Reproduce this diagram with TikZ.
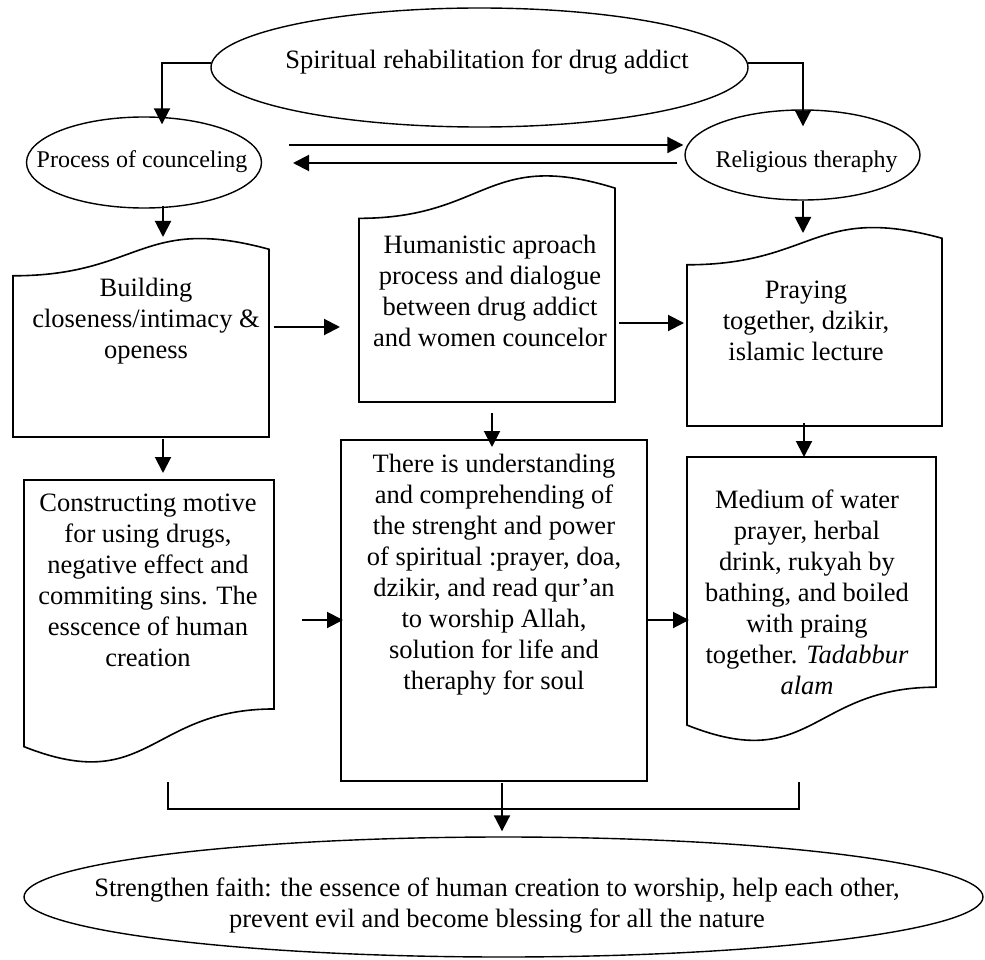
\documentclass[tikz,border=0pt]{standalone}
\usepackage{fontspec}
\setmainfont{Liberation Serif}
\usetikzlibrary{shapes.geometric,arrows.meta,calc}
\newcommand\docdown[2]{%
  \draw[shp] (#1.north west) -- (#1.north east) -- ($(#1.north east)+(0,0.802*#2)$)
    .. controls ($(#1.north)+(0,0.802*#2)$) and ($(#1.north)+(0,1.1075*#2)$) ..
    ($(#1.north west)+(0,0.934*#2)$) -- cycle;}
\newcommand\docup[2]{%
  \draw[shp] (#1.south west) -- (#1.south east) -- ($(#1.south east)+(0,-0.934*#2)$)
    .. controls ($(#1.south)+(0,-1.1075*#2)$) and ($(#1.south)+(0,-0.802*#2)$) ..
    ($(#1.south west)+(0,-0.802*#2)$) -- cycle;}
\begin{document}
\begin{tikzpicture}[x=1pt,y=-1pt,
  shp/.style={draw, line width=1.6pt, line join=miter},
  ln/.style={line width=1.7pt},
  arr/.style={line width=2pt, -{Triangle[length=16pt,width=16pt]}},
  ell/.style={ellipse, draw, line width=1.4pt, inner sep=0pt},
  area/.style={rectangle, draw=none, inner sep=0pt, outer sep=0pt},
  bigtxt/.style={align=center, inner sep=0pt, font=\fontsize{26.5pt}{31pt}\selectfont},
  smtxt/.style={align=center, inner sep=0pt, font=\fontsize{24pt}{28pt}\selectfont}]
\useasboundingbox[fill=white] (0,0) rectangle (985,960);

% ellipses
\node[ell, minimum width=537pt, minimum height=119pt] (topE) at (479.5,67.5) {};
\node[bigtxt] (topT) at (487,62) {Spiritual rehabilitation for drug addict};
\node[ell, minimum width=235pt, minimum height=91pt] (proc) at (144,162.5) {};
\node[smtxt] (procT) at (142,162) {Process of counceling};
\node[ell, minimum width=235pt, minimum height=90pt] (rel) at (802.5,155) {};
\node[smtxt] (relT) at (806.5,162) {Religious theraphy};
\node[ell, minimum width=959pt, minimum height=120pt] (bot) at (503.5,897) {};
\node[bigtxt] (botT) at (497,906) {Strengthen faith: the essence of human creation to worship, help each other,\\prevent evil and become blessing for all the nature};

% box areas
\node[area, minimum width=256pt, minimum height=201pt] (bld) at (141,336.5) {};
\node[area, minimum width=256pt, minimum height=229pt] (hum) at (487,287.5) {};
\node[area, minimum width=255pt, minimum height=201pt] (pray) at (814.5,325.5) {};
\node[area, minimum width=250pt, minimum height=285.5pt] (cons) at (149,622.75) {};
\node[area, draw, line width=1.6pt, minimum width=306pt, minimum height=341pt] (there) at (494,610.5) {};
\node[area, minimum width=249pt, minimum height=287pt] (med) at (811.5,600.5) {};

\docup{bld}{201}
\docup{hum}{229}
\docup{pray}{201}
\docdown{cons}{285.5}
\docdown{med}{287}

% box texts
\node[bigtxt] (bldT) at (146,321) {Building\\closeness/intimacy \&\\openess};
\node[bigtxt] (humT) at (490,291) {Humanistic aproach\\process and dialogue\\between drug addict\\and women councelor};
\node[bigtxt] (prayT) at (806,321) {Praying\\together, dzikir,\\islamic lecture};
\node[bigtxt] (consT) at (148,580.5) {Constructing motive\\for using drugs,\\negative effect and\\commiting sins. The\\esscence of human\\creation};
\node[bigtxt] (thereT) at (494,574.5) {There is understanding\\and comprehending of\\the strenght and power\\of spiritual :prayer, doa,\\dzikir, and read qur’an\\to worship Allah,\\solution for life and\\theraphy for soul};
\node[bigtxt] (medT) at (807,592) {Medium of water\\prayer, herbal\\drink, rukyah by\\bathing, and boiled\\with praing\\together. \textit{Tadabbur}\\\textit{alam}};

% connectors
\draw[arr] (topE.179) -| ($(proc.north)+(18,8)$);
\draw[arr] (topE.1) -| ($(rel.north)+(0.5,17)$);
\coordinate (a3s) at (289,145);
\coordinate (a4e) at (293,163);
\draw[arr] (a3s) -- ($(rel.west)+(-1,-10)$);
\draw[arr] ($(rel.west)+(-7,8)$) -- (a4e);
\draw[arr] ($(proc.south)+(19,-3)$) -- ($(bld.north)+(22,1)$);
\draw[arr] ($(rel.south)+(0.5,0)$) -- ($(pray.north)+(-11.5,8)$);
\draw[arr] ($(bld.east)+(5,-9.5)$) -- ($(hum.west)+(-19,39.5)$);
\draw[arr] ($(hum.east)+(4,35.5)$) -- ($(pray.west)+(-3,-2.5)$);
\draw[arr] ($(bld.south)+(22,2)$) -- ($(cons.north)+(14,-7)$);
\draw[arr] ($(hum.south)+(5,11)$) -- ($(there.north)+(-2,7)$);
\draw[arr] ($(pray.south)+(-10.5,-3)$) -- ($(med.north)+(-7.5,0)$);
\draw[arr] ($(cons.east)+(28,-2.75)$) -- ($(there.west)+(2,9.5)$);
\draw[arr] ($(there.east)+(1,9.5)$) -- ($(med.west)+(2,19.5)$);
\coordinate (bl) at (168,782);
\coordinate (br) at (799,782);
\draw[ln] (bl) -- ++(0,27) -| (br);
\draw[arr] ($(there.south)+(8,2)$) -- ($(bot.north)+(-1.5,-5)$);
\end{tikzpicture}
\end{document}
